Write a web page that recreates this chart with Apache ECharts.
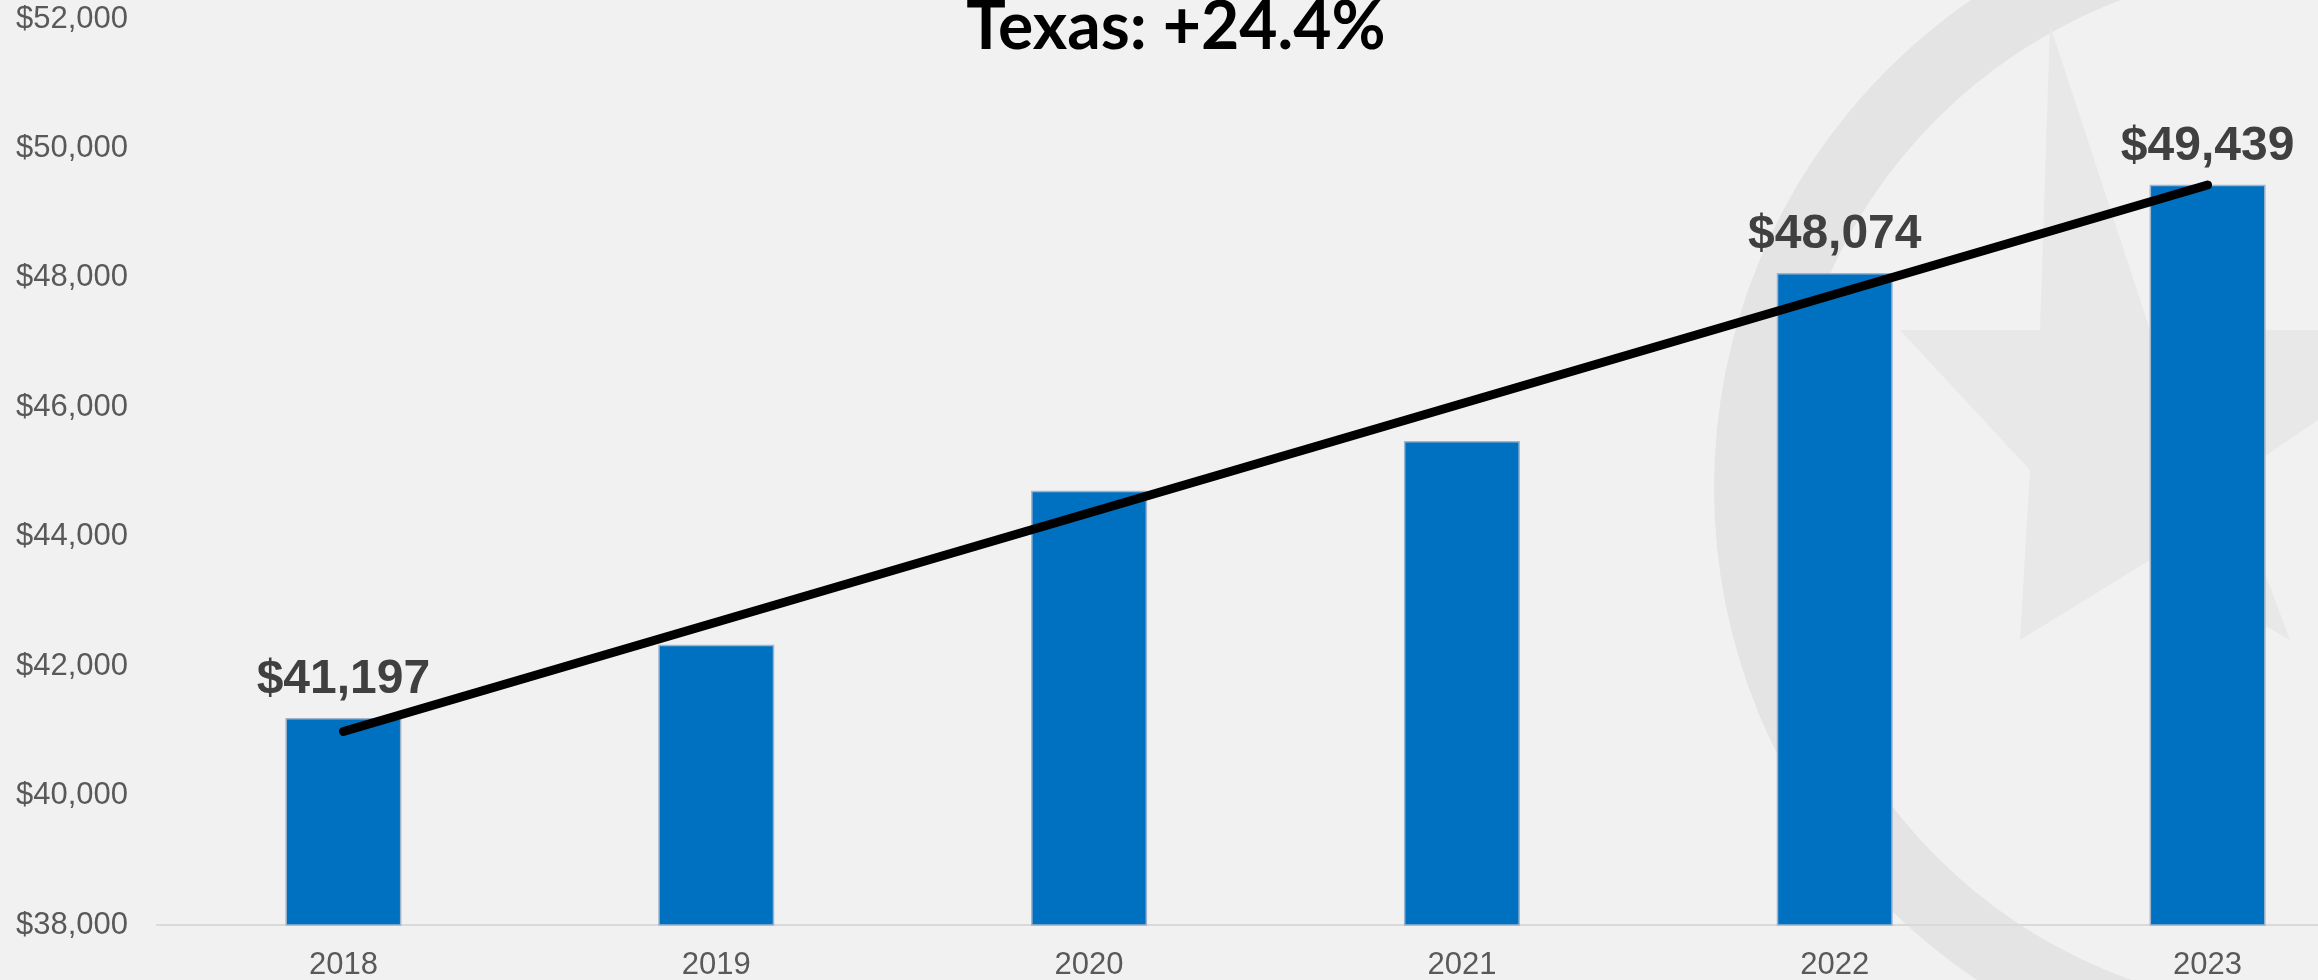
<!DOCTYPE html>
<html>
<head>
<meta charset="utf-8">
<title>Texas: +24.4%</title>
<script src="https://cdn.jsdelivr.net/npm/echarts@6/dist/echarts.min.js"></script>
<style>
  html, body { margin: 0; padding: 0; background: #f1f1f1; }
  #chart { width: 2318px; height: 980px; }
</style>
</head>
<body>
<div id="chart"></div>
<script>
// data
var years = ['2018', '2019', '2020', '2021', '2022', '2023'];
var income = [41197, 42330, 44710, 45480, 48074, 49439];
var labeledYears = ['2018', '2022', '2023'];
// straight trend line, only its two ends are known
var trend = [40990, null, null, null, null, 49435];
var yMin = 38000;
var yMax = 52000;
var yStep = 2000;

function money(v) {
    return '$' + Math.round(v).toLocaleString('en-US');
}

var myChart = echarts.init(document.getElementById('chart'));

var barData = income.map(function (v, i) {
    var show = labeledYears.indexOf(years[i]) >= 0;
    return { value: v, label: { show: show } };
});

var option = {
    backgroundColor: '#f1f1f1',
    animation: false,
    title: {
        text: 'Texas: +24.4%',
        left: 1171,
        top: -10,
        textAlign: 'center',
        textStyle: {
            fontFamily: 'Lato',
            fontWeight: 'bold',
            fontSize: 66,
            color: '#000'
        }
    },
    // faint state seal behind the chart
    graphic: [
        {
            type: 'ring',
            silent: true,
            z: -10,
            shape: { cx: 2306, cy: 488, r: 592, r0: 522 },
            style: { fill: '#e4e4e4' }
        },
        {
            type: 'polygon',
            silent: true,
            z: -10,
            shape: {
                points: [[2050, 25], [2150, 330], [2318, 330], [2318, 420], [2230, 480],
                         [2290, 640], [2150, 560], [2020, 640], [2030, 470], [1900, 330], [2040, 330]]
            },
            style: { fill: '#e8e8e8' }
        }
    ],
    // the plot runs past the right edge of the picture
    grid: {
        left: 157,
        top: 19,
        bottom: 55,
        width: 2237,
        outerBoundsMode: 'none'
    },
    xAxis: {
        type: 'category',
        data: years,
        axisLine: { lineStyle: { color: '#d9d9d9', width: 2 } },
        axisTick: { length: 10, lineStyle: { color: '#d9d9d9', width: 2 } },
        axisLabel: {
            margin: 25,
            fontFamily: 'Liberation Sans',
            fontSize: 31,
            color: '#595959'
        }
    },
    yAxis: {
        type: 'value',
        min: yMin,
        max: yMax,
        interval: yStep,
        axisLine: { show: false },
        axisTick: { show: false },
        splitLine: { show: false },
        axisLabel: {
            margin: 29,
            fontFamily: 'Liberation Sans',
            fontSize: 31,
            color: '#595959',
            formatter: money
        }
    },
    series: [
        {
            type: 'bar',
            data: barData,
            barWidth: 116,
            itemStyle: {
                color: '#0070c0',
                borderColor: '#9fb4cc',
                borderWidth: 1.5
            },
            label: {
                position: 'top',
                distance: 14,
                fontFamily: 'Liberation Sans',
                fontWeight: 'bold',
                fontSize: 48,
                color: '#404040',
                formatter: function (p) { return money(p.value); }
            }
        },
        {
            type: 'line',
            data: trend,
            connectNulls: true,
            symbol: 'none',
            z: 5,
            lineStyle: { color: '#000', width: 9, cap: 'round' }
        }
    ]
};

myChart.setOption(option);
</script>
</body>
</html>
